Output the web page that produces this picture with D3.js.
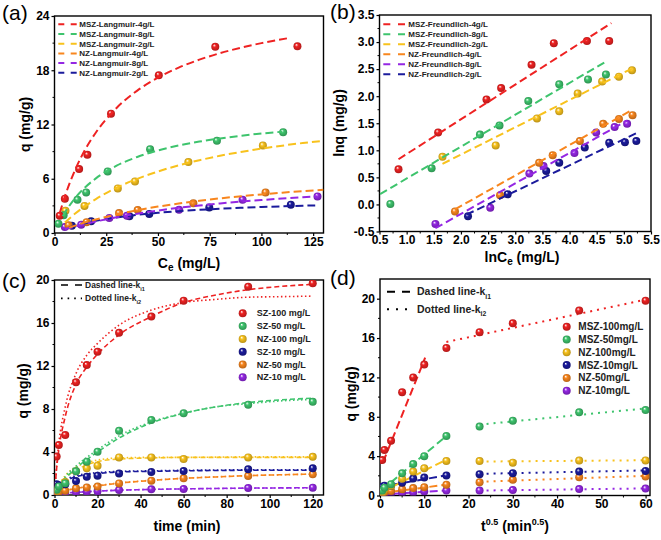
<!DOCTYPE html>
<html><head><meta charset="utf-8">
<script src="https://cdn.jsdelivr.net/npm/d3@7/dist/d3.min.js"></script>
<style>
body{margin:0;background:#fff;}
svg{display:block;font-family:"Liberation Sans",Arial,sans-serif;}
</style></head><body>
<svg id="chart" width="661" height="540"></svg>
<script>
// ---------- colours ----------
const RED="#ee2222", GREEN="#3ec46d", YELLOW="#f8c21d", ORANGE="#f8861e", PURPLE="#9427e3", NAVY="#1b1b9c";

// ---------- panel (a): Langmuir ----------
const aLegend = ["MSZ-Langmuir-4g/L","MSZ-Langmuir-8g/L","MSZ-Langmuir-2g/L","NZ-Langmuir-4g/L","NZ-Langmuir-8g/L","NZ-Langmuir-2g/L"];
const aXTicks = [0,25,50,75,100,125];
const aYTicks = [0,6,12,18,24];
const aPtsMSZ4 = [[2.5,1.9],[5.0,3.8],[11.9,7.07],[15.9,8.65],[27.3,13.2],[50.4,17.45],[77.7,20.6],[117.4,20.65]];
const aPtsMSZ8 = [[1.9,1.03],[4.4,1.95],[11.1,3.68],[15.3,4.49],[25.7,6.8],[46.2,9.27],[78.5,10.2],[110.5,11.15]];
const aPtsMSZ2 = [[5.3,2.45],[14.5,3.0],[30.6,4.93],[38.9,5.7],[64.7,7.84],[100.7,9.68]];
const aPtsNZ4  = [[6.8,0.85],[15.5,1.2],[31.2,2.2],[40.2,2.54],[67.1,3.28],[102,4.49]];
const aPtsNZ8  = [[5.0,0.65],[12.9,0.92],[26.5,1.66],[35,1.9],[60.2,2.58],[90.9,3.68],[127.1,4.05]];
const aPtsNZ2  = [[8.4,0.81],[17.7,1.29],[36.2,1.84],[45.8,2.1],[74.8,2.83],[114.2,3.13]];
const aFitMSZ4 = [[2.5,2.17],[5,4.02],[10,7.0],[15,9.3],[20,11.12],[30,13.83],[40,15.75],[50,17.18],[60,18.29],[70,19.17],[80,19.89],[90,20.49],[100,21.0],[114,21.59]];
const aFitMSZ8 = [[4,1.86],[5,2.25],[10,3.87],[15,5.09],[20,6.04],[30,7.44],[40,8.41],[50,9.13],[60,9.68],[70,10.11],[80,10.46],[90,10.75],[100,11.0],[110,11.2]];
const aFitMSZ2 = [[5,1.16],[10,2.15],[15,3.0],[20,3.75],[30,5.0],[40,5.99],[50,6.8],[60,7.48],[70,8.05],[80,8.54],[90,8.96],[100,9.33],[110,9.66],[120,9.95],[130,10.2]];
const aFitNZ4  = [[7,0.6],[10,0.82],[15,1.18],[20,1.49],[30,2.05],[40,2.52],[50,2.92],[60,3.26],[70,3.56],[80,3.83],[90,4.06],[100,4.27],[110,4.46],[120,4.63],[130,4.78]];
const aFitNZ8  = [[5,0.45],[10,0.7],[20,1.27],[30,1.74],[40,2.14],[50,2.48],[60,2.78],[70,3.04],[80,3.27],[90,3.47],[100,3.65],[110,3.81],[120,3.96],[127,4.05]];
const aFitNZ2  = [[7,0.6],[10,0.8],[20,1.34],[30,1.72],[40,2.01],[50,2.23],[60,2.41],[70,2.56],[80,2.68],[90,2.78],[100,2.87],[110,2.95],[120,3.02],[126,3.05]];

// ---------- panel (b): Freundlich ----------
const bLegend = ["MSZ-Freundlich-4g/L","MSZ-Freundlich-8g/L","MSZ-Freundlich-2g/L","NZ-Freundlich-4g/L","NZ-Freundlich-8g/L","NZ-Freundlich-2g/L"];
const bXTicks = [0.5,1.0,1.5,2.0,2.5,3.0,3.5,4.0,4.5,5.0,5.5];
const bYTicks = [-0.5,0.0,0.5,1.0,1.5,2.0,2.5,3.0,3.5];
const bPtsMSZ4 = [[0.85,0.65],[1.58,1.33],[2.47,1.94],[2.74,2.15],[3.30,2.58],[3.71,2.98],[4.32,3.02],[4.73,3.02]];
const bPtsMSZ8 = [[0.70,0.01],[1.46,0.67],[2.35,1.29],[2.71,1.46],[3.24,1.91],[3.81,2.22],[4.34,2.31],[4.67,2.40]];
const bPtsMSZ2 = [[1.66,0.88],[2.64,1.09],[3.40,1.59],[3.81,1.72],[4.15,2.05],[4.60,2.27],[4.91,2.36],[5.15,2.48]];
const bPtsNZ4  = [[1.89,-0.13],[2.72,0.17],[3.44,0.77],[3.69,0.91],[4.19,1.17],[4.62,1.49],[4.91,1.58],[5.16,1.65]];
const bPtsNZ8  = [[1.53,-0.36],[2.54,-0.06],[3.26,0.57],[3.52,0.71],[4.09,0.95],[4.49,1.33],[4.83,1.43],[5.06,1.49]];
const bPtsNZ2  = [[2.13,-0.22],[2.86,0.19],[3.57,0.62],[3.81,0.77],[4.28,1.05],[4.73,1.14],[5.02,1.15],[5.23,1.17]];
const bFitMSZ4 = [[0.85,0.835],[4.77,3.35]];
const bFitMSZ8 = [[0.51,0.19],[4.67,2.64]];
const bFitMSZ2 = [[1.66,0.75],[5.15,2.51]];
const bFitNZ4  = [[1.89,-0.09],[5.16,1.75]];
const bFitNZ8  = [[1.53,-0.44],[5.06,1.55]];
const bFitNZ2  = [[2.10,-0.19],[5.26,1.33]];

// ---------- panel (c): kinetics vs time ----------
const cLegend = ["SZ-100 mg/L","SZ-50 mg/L","NZ-100 mg/L","SZ-10 mg/L","NZ-50 mg/L","NZ-10 mg/L"];
const cXTicks = [0,20,40,60,80,100,120];
const cYTicks = [0,4,8,12,16,20];
const cTime   = [1,2,5,10,15,20,30,45,60,90,120];
const cRed    = [3.57,4.65,5.58,10.48,12.09,13.33,15.1,16.6,18.08,19.38,19.69];
const cGreen  = [0.5,0.8,1.1,2.2,3.1,4.03,5.98,6.98,7.6,8.4,8.68];
const cYellow = [0.4,0.7,1.2,2.2,2.48,2.73,3.5,3.5,3.35,3.5,3.55];
const cNavy   = [1.0,0.9,1.0,1.3,1.7,1.8,2.0,2.15,2.23,2.39,2.48];
const cOrange = [0.2,0.3,0.4,0.62,0.7,0.78,1.08,1.33,1.55,1.77,1.92];
const cPurple = [0.1,0.15,0.2,0.25,0.3,0.35,0.47,0.53,0.56,0.65,0.68];
const cFitT        = [0,1,2,5,10,15,20,30,45,60,75,90,105,120];
const cRedDash     = [0,2.5,4.2,7.3,10.3,11.9,13.1,14.9,16.6,17.9,18.6,19.1,19.4,19.6];
const cRedDot      = [0,2.8,4.8,8.2,11.3,13.0,14.1,15.8,17.2,17.9,18.2,18.4,18.45,18.5];
const cGreenDash   = [0,0.35,0.7,1.5,2.5,3.3,4.0,5.3,6.7,7.6,8.2,8.6,8.85,9.0];
const cGreenDot    = [0,0.4,0.8,1.7,2.7,3.5,4.2,5.5,6.8,7.6,8.2,8.5,8.75,8.9];
const cYellowDash  = [0,0.45,0.8,1.6,2.3,2.8,3.1,3.35,3.45,3.5,3.5,3.5,3.5,3.5];
const cYellowDot   = [0,0.5,0.9,1.8,2.6,3.0,3.25,3.45,3.5,3.5,3.52,3.55,3.55,3.55];
const cNavyDash    = [0,0.6,0.9,1.3,1.7,1.9,2.0,2.15,2.2,2.25,2.28,2.3,2.3,2.3];
const cNavyDot     = [0,0.65,0.95,1.4,1.8,1.98,2.08,2.2,2.25,2.3,2.32,2.35,2.35,2.35];
const cOrangeDash  = [0,0.1,0.2,0.4,0.6,0.75,0.85,1.1,1.35,1.55,1.68,1.8,1.88,1.95];
const cOrangeDot   = [0,0.12,0.22,0.42,0.62,0.77,0.88,1.12,1.37,1.56,1.69,1.8,1.88,1.94];
const cPurpleDash  = [0,0.04,0.08,0.17,0.25,0.3,0.36,0.44,0.52,0.57,0.61,0.64,0.66,0.68];
const cPurpleDot   = [0,0.05,0.09,0.18,0.26,0.31,0.37,0.45,0.52,0.57,0.6,0.63,0.65,0.67];

// ---------- panel (d): intraparticle diffusion ----------
const dLegend = ["MSZ-100mg/L","MSZ-50mg/L","NZ-100mg/L","MSZ-10mg/L","NZ-50mg/L","NZ-10mg/L"];
const dXTicks = [0,10,20,30,40,50,60];
const dYTicks = [0,4,8,12,16,20];
const dX      = [0.5,1,2.5,5,7.5,10,15,22.5,30,45,60];
const dRed    = [3.6,4.63,5.57,10.5,12.0,13.3,15.0,16.6,17.5,18.8,19.8];
const dGreen  = [0.5,0.8,1.15,2.26,3.2,4.0,6.05,7.0,7.6,8.45,8.68];
const dYellow = [0.3,0.6,1.0,1.7,2.43,2.77,3.51,3.5,3.34,3.55,3.56];
const dNavy   = [0.9,1.0,1.0,1.3,1.72,1.82,2.03,2.16,2.26,2.43,2.5];
const dOrange = [0.2,0.3,0.45,0.64,0.75,0.85,1.1,1.35,1.6,1.86,1.93];
const dPurple = [0.1,0.15,0.2,0.25,0.3,0.4,0.5,0.5,0.55,0.65,0.7];
const dRedDash = [[0.7,3.4],[10.2,14.0]],   dRedDot = [[15,15.6],[60,19.9]];
const dGreenDash = [[0.4,0.55],[15,6.05]],  dGreenDot = [[22.5,7.2],[60,8.85]];
const dYellowDash = [[0.4,0.35],[15,3.65]], dYellowDot = [[22.5,3.45],[60,3.58]];
const dNavyDash = [[0.4,0.9],[15,2.05]],    dNavyDot = [[22.5,2.2],[60,2.55]];
const dOrangeDash = [[0.4,0.25],[15,1.1]],  dOrangeDot = [[22.5,1.4],[60,2.0]];
const dPurpleDash = [[0.4,0.1],[15,0.5]],   dPurpleDot = [[22.5,0.5],[60,0.72]];

// ================= drawing =================
const svg = d3.select("#chart");
const defs = svg.append("defs");
const gradId = {};
[RED,GREEN,YELLOW,ORANGE,PURPLE,NAVY].forEach((c,i)=>{
  const id="sph"+i; gradId[c]=id;
  const g=defs.append("radialGradient").attr("id",id).attr("cx","50%").attr("cy","50%").attr("r","55%").attr("fx","35%").attr("fy","30%");
  g.append("stop").attr("offset","0%").attr("stop-color","#ffffff");
  g.append("stop").attr("offset","35%").attr("stop-color",c);
  g.append("stop").attr("offset","100%").attr("stop-color",d3.color(c).darker(0.9).formatHex());
});
const FONT = '"Liberation Sans",Arial,sans-serif';

function panel(cfg){
  const {id,left,right,top,bottom,xDom,yDom,xTicks,yTicks,xMinor,yMinor,fmtX,fmtY} = cfg;
  const x = d3.scaleLinear().domain(xDom).range([left,right]);
  const y = d3.scaleLinear().domain(yDom).range([bottom,top]);
  const cp = defs.append("clipPath").attr("id","clip"+id);
  cp.append("rect").attr("x",left).attr("y",top).attr("width",right-left).attr("height",bottom-top);
  const g = svg.append("g");
  // axes
  const ax = g.append("g").attr("transform",`translate(0,${bottom})`)
    .call(d3.axisBottom(x).tickValues(xTicks).tickSize(3).tickSizeOuter(0).tickPadding(1).tickFormat(fmtX));
  const ay = g.append("g").attr("transform",`translate(${left},0)`)
    .call(d3.axisLeft(y).tickValues(yTicks).tickSize(3).tickSizeOuter(0).tickPadding(2).tickFormat(fmtY));
  [ax,ay].forEach(a=>{
    a.select(".domain").remove();
    a.selectAll("line").attr("stroke","#000").attr("stroke-width",1.2);
    a.selectAll("text").attr("font-family",FONT).attr("font-weight","bold").attr("font-size",12).attr("fill","#000");
  });
  // minor ticks
  g.append("g").selectAll("line").data(xMinor).join("line")
    .attr("x1",d=>x(d)).attr("x2",d=>x(d)).attr("y1",bottom).attr("y2",bottom+2).attr("stroke","#000").attr("stroke-width",1);
  g.append("g").selectAll("line").data(yMinor).join("line")
    .attr("y1",d=>y(d)).attr("y2",d=>y(d)).attr("x1",left).attr("x2",left-2).attr("stroke","#000").attr("stroke-width",1);
  // frame
  g.append("rect").attr("x",left).attr("y",top).attr("width",right-left).attr("height",bottom-top)
    .attr("fill","none").attr("stroke","#000").attr("stroke-width",1.4);
  const plot = svg.append("g").attr("clip-path",`url(#clip${id})`);
  return {x,y,g,plot};
}
function fitLine(P, pts, color, dash, width, curve){
  const line = d3.line().x(d=>P.x(d[0])).y(d=>P.y(d[1])).curve(curve||d3.curveLinear);
  P.plot.append("path").datum(pts).attr("d",line).attr("fill","none")
    .attr("stroke",color).attr("stroke-width",width).attr("stroke-dasharray",dash);
}
function balls(P, pts, color, r){
  P.plot.append("g").selectAll("circle").data(pts).join("circle")
    .attr("cx",d=>P.x(d[0])).attr("cy",d=>P.y(d[1])).attr("r",r)
    .attr("fill",`url(#${gradId[color]})`);
}
function zip(xs,ys){ return xs.map((v,i)=>[v,ys[i]]); }
function txt(x,y,s,size,opts={}){
  const t=svg.append("text").attr("x",x).attr("y",y).attr("font-family",FONT)
    .attr("font-size",size).attr("font-weight",opts.weight||"bold").attr("fill",opts.fill||"#000")
    .attr("text-anchor",opts.anchor||"start");
  if(opts.rotate) t.attr("transform",`rotate(-90,${x},${y})`);
  if(opts.dy) t.attr("dy",opts.dy);
  return t.text(s);
}
const seriesColors = [RED,GREEN,YELLOW,ORANGE,PURPLE,NAVY];

// ---------- (a) ----------
const A = panel({id:"a",left:54.5,right:323.5,top:16,bottom:233,xDom:[0,130],yDom:[0,24],
  xTicks:aXTicks,yTicks:aYTicks,xMinor:[12.5,37.5,62.5,87.5,112.5],yMinor:[3,9,15,21],fmtX:d=>d,fmtY:d=>d});
const aFits=[aFitMSZ4,aFitMSZ8,aFitMSZ2,aFitNZ4,aFitNZ8,aFitNZ2];
const aPts=[aPtsMSZ4,aPtsMSZ8,aPtsMSZ2,aPtsNZ4,aPtsNZ8,aPtsNZ2];
[5,4,3,2,1,0].forEach(i=>balls(A,aPts[i],seriesColors[i],4));
[5,4,3,2,1,0].forEach(i=>fitLine(A,aFits[i],seriesColors[i],"8,4",2,d3.curveMonotoneX));
aLegend.forEach((s,i)=>{
  const yy=24.3+i*9.7;
  svg.append("line").attr("x1",58.3).attr("x2",76.7).attr("y1",yy).attr("y2",yy)
    .attr("stroke",seriesColors[i]).attr("stroke-width",2).attr("stroke-dasharray","6,6.4");
  txt(79.3,yy,s,8,{dy:"0.35em",fill:"#222"});
});
txt(2,20,"(a)",21,{weight:"normal"});
const aT = txt(25,124.5,"",14,{anchor:"middle",rotate:true,dy:"0.35em"}); aT.text("q (mg/g)");
const aX = svg.append("text").attr("x",189).attr("y",268).attr("text-anchor","middle").attr("font-family",FONT).attr("font-weight","bold").attr("font-size",14);
aX.append("tspan").text("C"); aX.append("tspan").attr("font-size",10).attr("dy",3).text("e"); aX.append("tspan").attr("dy",-3).text(" (mg/L)");

// ---------- (b) ----------
const B = panel({id:"b",left:379.5,right:651,top:15,bottom:231.5,xDom:[0.5,5.5],yDom:[-0.5,3.5],
  xTicks:bXTicks,yTicks:bYTicks,xMinor:[0.75,1.25,1.75,2.25,2.75,3.25,3.75,4.25,4.75,5.25],yMinor:[-0.25,0.25,0.75,1.25,1.75,2.25,2.75,3.25],
  fmtX:d=>d.toFixed(1),fmtY:d=>d.toFixed(1)});
const bFits=[bFitMSZ4,bFitMSZ8,bFitMSZ2,bFitNZ4,bFitNZ8,bFitNZ2];
const bPts=[bPtsMSZ4,bPtsMSZ8,bPtsMSZ2,bPtsNZ4,bPtsNZ8,bPtsNZ2];
[5,4,3,2,1,0].forEach(i=>balls(B,bPts[i],seriesColors[i],4));
[5,4,3,2,1,0].forEach(i=>fitLine(B,bFits[i],seriesColors[i],"8,4",2));
bLegend.forEach((s,i)=>{
  const yy=24.3+i*10;
  svg.append("line").attr("x1",383.3).attr("x2",405).attr("y1",yy).attr("y2",yy)
    .attr("stroke",seriesColors[i]).attr("stroke-width",2).attr("stroke-dasharray","7,7.7");
  txt(408.3,yy,s,8,{dy:"0.35em",fill:"#222"});
});
txt(330,19,"(b)",21,{weight:"normal"});
txt(339,123,"lnq (mg/g)",14,{anchor:"middle",rotate:true,dy:"0.35em"});
const bX = svg.append("text").attr("x",522).attr("y",262).attr("text-anchor","middle").attr("font-family",FONT).attr("font-weight","bold").attr("font-size",14);
bX.append("tspan").text("lnC"); bX.append("tspan").attr("font-size",10).attr("dy",3).text("e"); bX.append("tspan").attr("dy",-3).text(" (mg/L)");

// ---------- (c) ----------
const C = panel({id:"c",left:54.5,right:323.5,top:280,bottom:495,xDom:[0,125],yDom:[0,20],
  xTicks:cXTicks,yTicks:cYTicks,xMinor:[10,30,50,70,90,110],yMinor:[2,6,10,14,18],fmtX:d=>d,fmtY:d=>d});
const cCols=[RED,GREEN,YELLOW,NAVY,ORANGE,PURPLE];
const cVals=[cRed,cGreen,cYellow,cNavy,cOrange,cPurple];
const cDash=[cRedDash,cGreenDash,cYellowDash,cNavyDash,cOrangeDash,cPurpleDash];
const cDot=[cRedDot,cGreenDot,cYellowDot,cNavyDot,cOrangeDot,cPurpleDot];
[5,4,3,2,1,0].forEach(i=>{
  fitLine(C,zip(cFitT,cDash[i]),cCols[i],"5,3",1.6,d3.curveMonotoneX);
  fitLine(C,zip(cFitT,cDot[i]),cCols[i],"1.5,2.5",1.6,d3.curveMonotoneX);
});
[5,4,3,2,1,0].forEach(i=>balls(C,zip(cTime,cVals[i]),cCols[i],4));
svg.append("line").attr("x1",61).attr("x2",82).attr("y1",285).attr("y2",285).attr("stroke","#000").attr("stroke-width",1.6).attr("stroke-dasharray","7,7");
svg.append("line").attr("x1",61).attr("x2",82).attr("y1",298.3).attr("y2",298.3).attr("stroke","#000").attr("stroke-width",1.8).attr("stroke-dasharray","1.6,5");
function kLabel(x,y,size,sub){
  const t=txt(x,y,"",size,{dy:"0.35em",fill:"#222"});
  t.append("tspan").text(sub[0]);
  t.append("tspan").attr("font-size",size*0.65).attr("dy",size*0.3).text(sub[1]);
}
kLabel(85,285,8.5,["Dashed line-k","i1"]);
kLabel(85,298.3,8.5,["Dotted line-k","i2"]);
cLegend.forEach((s,i)=>{
  const yy=313.3+i*12.8;
  svg.append("circle").attr("cx",242.7).attr("cy",yy).attr("r",4).attr("fill",`url(#${gradId[cCols[i]]})`);
  txt(256.7,yy,s,9,{dy:"0.35em",fill:"#222"});
});
txt(2,288,"(c)",21,{weight:"normal"});
txt(23,391,"q (mg/g)",14,{anchor:"middle",rotate:true,dy:"0.35em"});
txt(187,531,"time (min)",14,{anchor:"middle"});

// ---------- (d) ----------
const D = panel({id:"d",left:380,right:650,top:279,bottom:495.5,xDom:[0,61],yDom:[0,22],
  xTicks:dXTicks,yTicks:dYTicks,xMinor:[5,15,25,35,45,55],yMinor:[2,6,10,14,18],fmtX:d=>d,fmtY:d=>d});
const dCols=[RED,GREEN,YELLOW,NAVY,ORANGE,PURPLE];
const dVals=[dRed,dGreen,dYellow,dNavy,dOrange,dPurple];
const dDash=[dRedDash,dGreenDash,dYellowDash,dNavyDash,dOrangeDash,dPurpleDash];
const dDot=[dRedDot,dGreenDot,dYellowDot,dNavyDot,dOrangeDot,dPurpleDot];
[5,4,3,2,1,0].forEach(i=>{
  fitLine(D,dDash[i],dCols[i],"8,4",2);
  fitLine(D,dDot[i],dCols[i],"2,5",2);
});
[5,4,3,2,1,0].forEach(i=>balls(D,zip(dX,dVals[i]),dCols[i],4));
svg.append("line").attr("x1",387).attr("x2",410).attr("y1",291.7).attr("y2",291.7).attr("stroke","#000").attr("stroke-width",2).attr("stroke-dasharray","8,7");
svg.append("line").attr("x1",387).attr("x2",410).attr("y1",309.3).attr("y2",309.3).attr("stroke","#000").attr("stroke-width",2).attr("stroke-dasharray","2,7");
kLabel(417,291.7,10.5,["Dashed line-k","i1"]);
kLabel(417,309.3,10.5,["Dotted line-k","i2"]);
dLegend.forEach((s,i)=>{
  const yy=326.7+i*12.8;
  svg.append("circle").attr("cx",566.7).attr("cy",yy).attr("r",4).attr("fill",`url(#${gradId[dCols[i]]})`);
  txt(578.3,yy,s,10,{dy:"0.35em",fill:"#222"});
});
txt(330,285,"(d)",21,{weight:"normal"});
txt(351,394,"q (mg/g)",14,{anchor:"middle",rotate:true,dy:"0.35em"});
const dXT = svg.append("text").attr("x",515).attr("y",531).attr("text-anchor","middle").attr("font-family",FONT).attr("font-weight","bold").attr("font-size",14);
dXT.append("tspan").text("t"); dXT.append("tspan").attr("font-size",9).attr("dy",-6).text("0.5");
dXT.append("tspan").attr("dy",6).text(" (min"); dXT.append("tspan").attr("font-size",9).attr("dy",-6).text("0.5");
dXT.append("tspan").attr("dy",6).text(")");
</script>
</body></html>
